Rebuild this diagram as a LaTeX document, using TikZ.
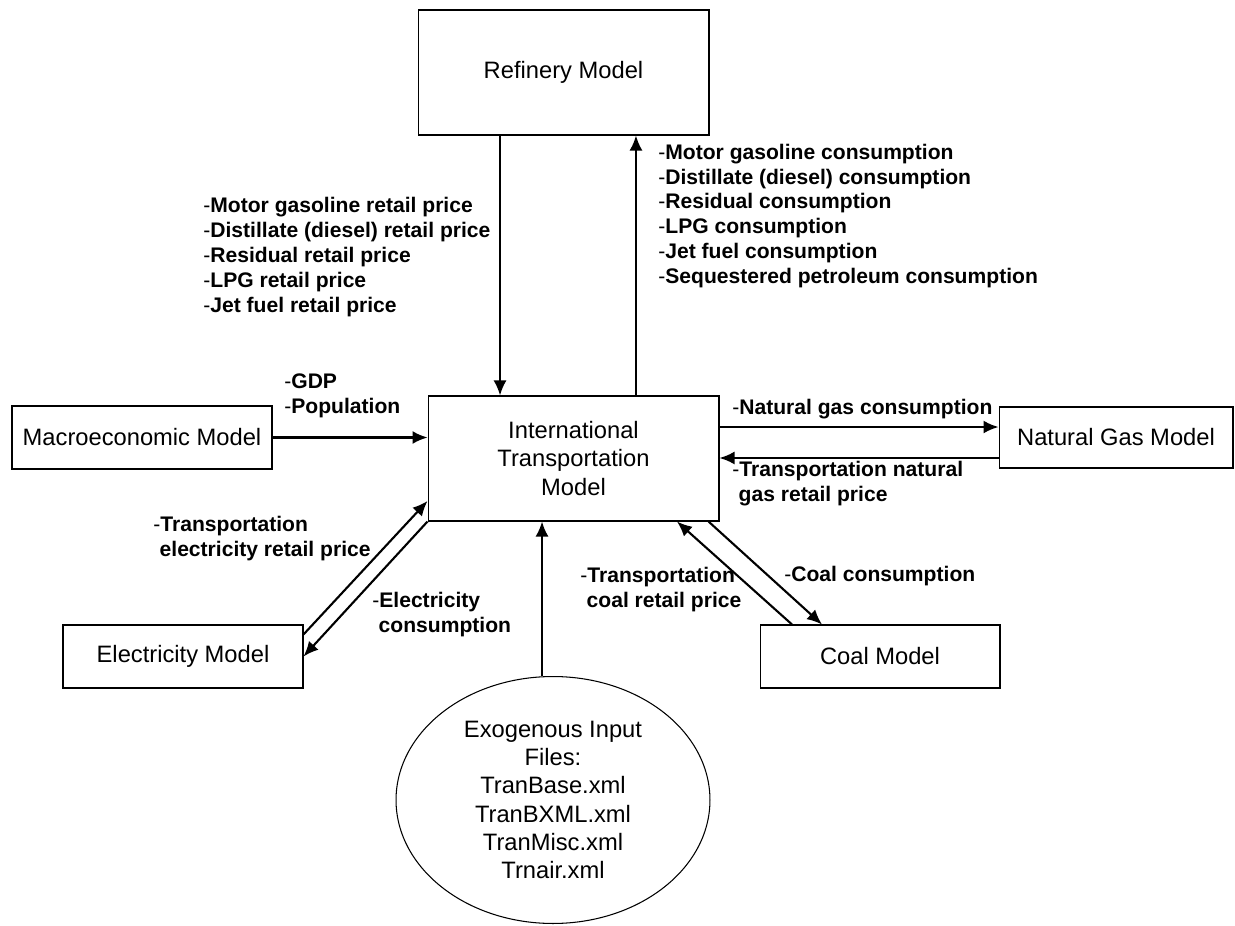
\documentclass[tikz,border=0pt]{standalone}
\usepackage{fontspec}
\setmainfont{Liberation Sans}
\usetikzlibrary{arrows.meta,shapes.geometric}
\newcommand{\flowitem}[1]{-\textbf{#1}}

\begin{document}
\begin{tikzpicture}[
    x=0.02cm, y=-0.02cm,
    box/.style={draw, line width=0.6pt, align=center, inner sep=0pt, font=\fontsize{13.5}{16}\selectfont},
    arrow/.style={-{Latex[length=3mm,width=2.6mm]}, line width=1.2pt},
    flowlabel/.style={anchor=west, align=left, inner sep=0pt, font=\fontsize{12}{14.2}\selectfont}]
\useasboundingbox (0,0) rectangle (1235,926);
\node[box, minimum width=5.82cm, minimum height=2.5cm] (refinery) at (563.5,72.5) {Refinery Model};
\node[box, minimum width=5.82cm, minimum height=2.5cm] (itm) at (573.5,458.5) {International\\Transportation\\Model};
\node[box, minimum width=5.2cm, minimum height=1.26cm] (macro) at (142,437.5) {Macroeconomic Model};
\node[box, minimum width=4.68cm, minimum height=1.22cm] (gas) at (1116,437.5) {Natural Gas Model};
\node[box, minimum width=4.8cm, minimum height=1.26cm] (elec) at (183,656.5) {Electricity Model};
\node[box, minimum width=4.8cm, minimum height=1.26cm] (coal) at (880,656.5) {Coal Model};
\node[box, ellipse, minimum width=6.28cm, minimum height=4.94cm] (exo) at (553,800) {Exogenous Input\\Files:\\TranBase.xml\\TranBXML.xml\\TranMisc.xml\\Trnair.xml};

% refinery links
\coordinate (refout) at ([xshift=-1.27cm]refinery.south);
\coordinate (refin) at ([xshift=1.25cm]itm.north);
\draw[arrow] (refout) -- (refout |- itm.north);
\draw[arrow] (refin) -- (refin |- refinery.south);
\node[flowlabel] (refprices) at (203,257) {\flowitem{Motor gasoline retail price}\\ \flowitem{Distillate (diesel) retail price}\\ \flowitem{Residual retail price}\\ \flowitem{LPG retail price}\\ \flowitem{Jet fuel retail price}};
\node[flowlabel] (refuse) at (658,216) {\flowitem{Motor gasoline consumption}\\ \flowitem{Distillate (diesel) consumption}\\ \flowitem{Residual consumption}\\ \flowitem{LPG consumption}\\ \flowitem{Jet fuel consumption}\\ \flowitem{Sequestered petroleum consumption}};

% macro and gas
\draw[arrow] (macro.east) -- (macro.east -| itm.west);
\node[flowlabel] (macroin) at (284,395.5) {\flowitem{GDP}\\ \flowitem{Population}};
\coordinate (gasout) at ([yshift=0.63cm]itm.east);
\coordinate (gasin) at ([yshift=-0.41cm]gas.west);
\draw[arrow] (gasout) -- (gasout -| gas.west);
\draw[arrow] (gasin) -- (gasin -| itm.east);
\node[flowlabel] (gasuse) at (732,409) {\flowitem{Natural gas consumption}};
\node[flowlabel] (gasprice) at (732,484) {\flowitem{Transportation natural}\\\hspace*{0.3em}\textbf{gas retail price}};

% electricity and coal
\draw[arrow] ([yshift=-0.2cm]elec.north east) -- ([yshift=-0.85cm]itm.west);
\draw[arrow] (itm.south west) -- (elec.east);
\node[flowlabel] (elecprice) at (153,538.5) {\flowitem{Transportation}\\\hspace*{0.3em}\textbf{electricity retail price}};
\node[flowlabel] (elecuse) at (372,615) {\flowitem{Electricity}\\\hspace*{0.3em}\textbf{consumption}};
\draw[arrow] ([xshift=-0.22cm]itm.south east) -- ([xshift=-1.16cm]coal.north);
\draw[arrow] ([xshift=-1.76cm]coal.north) -- ([xshift=2.07cm]itm.south);
\node[flowlabel] (coalprice) at (580,590) {\flowitem{Transportation}\\\hspace*{0.3em}\textbf{coal retail price}};
\node[flowlabel] (coaluse) at (784,576) {\flowitem{Coal consumption}};

% input files
\coordinate (exoout) at ([xshift=-0.63cm]itm.south);
\draw[arrow] (exoout |- exo.north) -- (exoout);
\end{tikzpicture}
\end{document}
